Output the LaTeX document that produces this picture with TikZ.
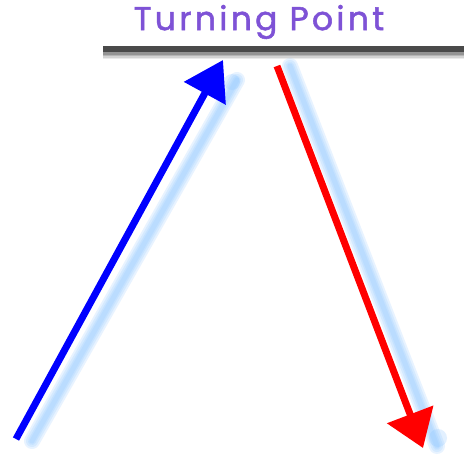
\documentclass[tikz,border=0pt]{standalone}
\usepackage{fontspec}
\setmainfont{Poppins}
\newfontfamily\titlefont[LetterSpace=10,FakeBold=1.6]{Poppins}
\usetikzlibrary{arrows.meta}
\definecolor{titlepurple}{HTML}{7E52D6}
\definecolor{glow}{HTML}{8CC6FF}
\definecolor{barcol}{HTML}{4A4A4A}
\tikzset{
  glowline/.style={draw=glow, line cap=round, opacity=0.2},
  upshaft/.style={draw=blue, line width=7pt, -{Triangle[length=38pt,width=46pt]}},
  downshaft/.style={draw=red, line width=7pt, -{Triangle[length=36pt,width=48pt]}},
  titletext/.style={text=titlepurple, font=\titlefont\fontsize{33}{33}\selectfont, inner sep=0pt}
}
\begin{document}
\begin{tikzpicture}[x=1pt,y=-1pt]
\useasboundingbox[fill=white] (0,0) rectangle (464,461);
% coordinates
\coordinate (barL) at (103,49);
\coordinate (barR) at (464,49);
\coordinate (upS) at (16,439);
\coordinate (upT) at (223,60);
\coordinate (dnS) at (277,66);
\coordinate (dnT) at (423,448);
% title
\node[titletext] (title) at (259,22) {Turning Point};
% bar shadow
\foreach \w/\o in {12/0.08,9/0.1,6/0.14,3/0.18}{
  \draw[line width=\w pt, draw=black, opacity=\o] ([yshift=-4pt]barL) -- ([yshift=-4pt]barR);
}
\draw[line width=6pt, draw=barcol] (barL) -- (barR);
% glows
\foreach \w in {16,12,8,5}{
  \draw[glowline, line width=\w pt] ([shift={(16,2)}]upS) -- ([shift={(14,20)}]upT);
  \draw[glowline, line width=\w pt] ([shift={(13,0)}]dnS) -- ([shift={(14,-2)}]dnT);
}
\fill[glow, opacity=0.25] (232,82) circle (8pt);
\fill[glow, opacity=0.25] (438,438) circle (9pt);
% arrows
\draw[upshaft] (upS) -- (upT);
\draw[downshaft] (dnS) -- (dnT);
\end{tikzpicture}
\end{document}
